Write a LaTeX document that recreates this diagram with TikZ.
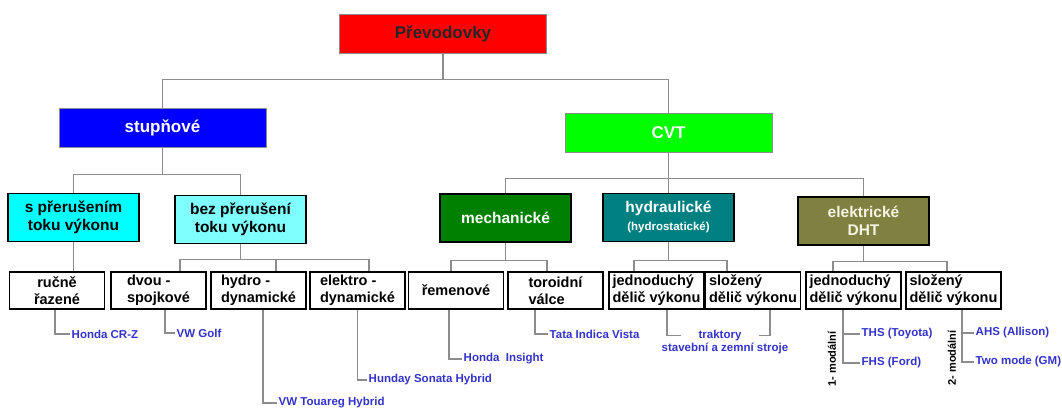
\documentclass[tikz,border=0pt]{standalone}
\usepackage{fontspec}
\setmainfont{Liberation Sans}
\usetikzlibrary{positioning}
\definecolor{cred}{HTML}{FF0000}
\definecolor{cblue}{HTML}{0000FF}
\definecolor{cgreen}{HTML}{00FF00}
\definecolor{ccyan}{HTML}{00FFFF}
\definecolor{clcyan}{HTML}{80FFFF}
\definecolor{cdgreen}{HTML}{008000}
\definecolor{cteal}{HTML}{008080}
\definecolor{colive}{HTML}{808040}
\definecolor{cpale}{HTML}{F4F4E4}
\definecolor{cline}{HTML}{8C8C8C}
\definecolor{ccar}{HTML}{3333CC}
\tikzset{
  every picture/.style={font=\bfseries},
  topbox/.style={draw=cline, line width=0.8pt, fill=#1, minimum width=207pt, minimum height=39pt, font=\fontsize{17}{20}\selectfont\bfseries},
  midbox/.style={draw=black, line width=1.6pt, fill=#1, minimum width=131pt, minimum height=48pt, align=center, inner sep=2pt, font=\fontsize{15.5}{18}\selectfont\bfseries},
  leafbox/.style={draw=black, line width=1.6pt, fill=white, minimum width=95pt, minimum height=37pt, align=left, inner sep=2pt, font=\fontsize{14.5}{17}\selectfont\bfseries},
  link/.style={draw=cline, line width=1.3pt},
  car/.style={text=ccar, anchor=west, inner sep=1.5pt, font=\fontsize{11.5}{13}\selectfont\bfseries},
  mode/.style={rotate=90, inner sep=1pt, font=\fontsize{11}{13}\selectfont\bfseries},
}

\begin{document}
\begin{tikzpicture}[x=1pt, y=-1pt]
  \useasboundingbox (0,0) rectangle (1062,410);
  % levels 0 and 1
  \node[topbox=cred, text=black!85] (prev) at (443,33.5) {Převodovky};
  \node[topbox=cblue, text=white] (stup) at (162.5,127.5) {stupňové};
  \node[topbox=cgreen, text=white] (cvt) at (668.5,132.5) {CVT};
  \draw[link] (prev.south) -- ++(0,26) coordinate (bus0) -| (stup.north);
  \draw[link] (bus0) -| (cvt.north);
  % level 2
  \node[midbox=ccyan] (spr) at (73.5,217.5) {s přerušením\\toku výkonu};
  \node[midbox=clcyan] (bez) at (240.5,219.5) {bez přerušení\\toku výkonu};
  \node[midbox=cdgreen, text=white] (mech) at (505.5,218) {mechanické};
  \node[midbox=cteal, text=white] (hydr) at (668.5,217.5) {hydraulické\\{\fontsize{11.5}{14}\selectfont(hydrostatické)}};
  \node[midbox=colive, text=cpale] (elek) at (863.5,221) {elektrické\\DHT};
  \draw[link] (stup.south) -- ++(0,27) coordinate (bus1) -| (spr.north);
  \draw[link] (bus1) -| (bez.north);
  \draw[link] (cvt.south) -- ++(0,26) coordinate (bus2) -| (mech.north);
  \draw[link] (bus2) -- (hydr.north);
  \draw[link] (bus2) -| (elek.north);
  % level 3
  \node[leafbox, align=center] (ruc) at (57,290.5) {ručně\\řazené};
  \foreach \n/\x/\t in {dvou/158.5/{dvou -\\spojkové}, hyd/258.5/{hydro -\\dynamické},
      ele/357.5/{elektro -\\dynamické}, rem/456/{řemenové}, tor/555.5/{toroidní\\válce},
      jed1/656.5/{jednoduchý\\dělič výkonu}, slo1/753/{složený\\dělič výkonu},
      jed2/853.5/{jednoduchý\\dělič výkonu}, slo2/953.5/{složený\\dělič výkonu}}
    \node[leafbox] (\n) at (\x,290.5) {\t};
  \draw[link] (spr.south) -- (spr.south |- ruc.north);
  \draw[link] (bez.south) -- ++(0,15) coordinate (bus3);
  \foreach \n/\d in {dvou/21.5, hyd/17.5, ele/11.5} \draw[link] (bus3) -| ([xshift=\d]\n.north);
  \draw[link] (mech.south) -- ++(0,18) coordinate (bus4);
  \foreach \n/\d in {rem/-5, tor/-8.5} \draw[link] (bus4) -| ([xshift=\d]\n.north);
  \draw[link] (hydr.south) -- ++(0,18) coordinate (bus5);
  \foreach \n/\d in {jed1/-22.5, slo1/-26} \draw[link] (bus5) -| ([xshift=\d]\n.north);
  \draw[link] (elek.south) -- ++(0,16) coordinate (bus6);
  \foreach \n/\d in {jed2/-20.5, slo2/-6.5} \draw[link] (bus6) -| ([xshift=\d]\n.north);
  % examples
  \node[car] (hcrz) at (70,334) {Honda CR-Z};
  \node[car] (golf) at (175,333) {VW Golf};
  \node[car] (toua) at (277,403) {VW Touareg Hybrid};
  \node[car] (sona) at (367,380) {Hunday Sonata Hybrid};
  \node[car] (insi) at (462,359) {Honda\ \ Insight};
  \node[car] (tata) at (548,334) {Tata Indica Vista};
  \draw[link] ([xshift=-2]ruc.south) |- (hcrz.west);
  \draw[link] ([xshift=6.5]dvou.south) |- (golf.west);
  \draw[link] ([xshift=4.5]hyd.south) |- (toua.west);
  \draw[link] (ele.south) |- (sona.west);
  \draw[link] ([xshift=-7]rem.south) |- (insi.west);
  \draw[link] ([xshift=-20.5]tor.south) |- (tata.west);
  \node[car, anchor=center, inner xsep=17pt] (trak) at (720,335.5) {traktory};
  \node[car, below=-1pt of trak, xshift=5pt] (stroje) {stavební a zemní stroje};
  \draw[link] ([xshift=10.5]jed1.south) |- (trak.west);
  \draw[link] ([xshift=17]slo1.south) |- (trak.east);
  % hybrid modes
  \node[car] (ths) at (860,334) {THS (Toyota)};
  \node[car] (fhs) at (860,363) {FHS (Ford)};
  \draw[link] ([xshift=-10.5]jed2.south) |- (fhs.west);
  \draw[link] ([xshift=-10.5]jed2.south) |- (ths.west);
  \node[mode] (mod1) at (832,359) {1- modální};
  \node[car] (ahs) at (974,333) {AHS (Allison)};
  \node[car] (gm) at (974,362) {Two mode (GM)};
  \draw[link] ([xshift=8.5]slo2.south) |- (gm.west);
  \draw[link] ([xshift=8.5]slo2.south) |- (ahs.west);
  \node[mode] (mod2) at (952,358) {2- modální};
\end{tikzpicture}
\end{document}
